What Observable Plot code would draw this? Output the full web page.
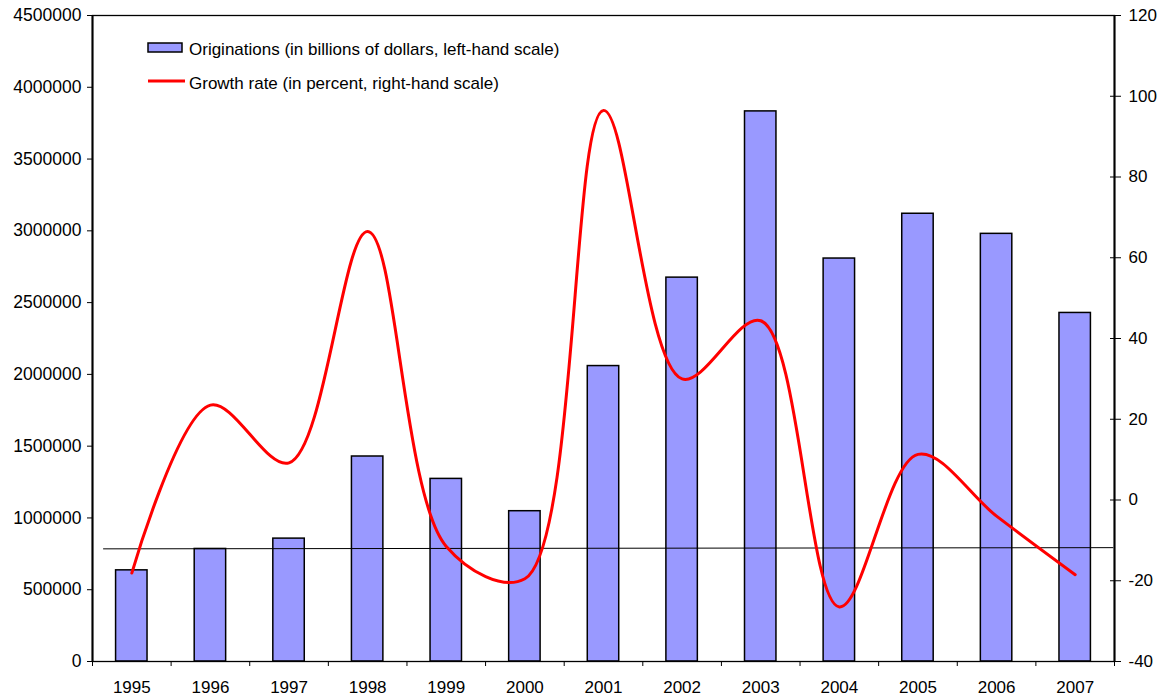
<!DOCTYPE html>
<html><head><meta charset="utf-8">
<script src="https://cdn.jsdelivr.net/npm/d3@7"></script>
<script src="https://cdn.jsdelivr.net/npm/@observablehq/plot@0.6"></script>
<style>
body{margin:0;background:#fff;}
#wrap{position:relative;width:1166px;height:698px;}
#legend{position:absolute;left:0;top:0;pointer-events:none;}
</style>
</head><body><div id="wrap"></div>
<script>
const years = [1995, 1996, 1997, 1998, 1999, 2000, 2001, 2002, 2003, 2004, 2005, 2006, 2007];
const originations = [635000, 784000, 856000, 1428000, 1272000, 1047000, 2058000, 2674000, 3832000, 2807000, 3119000, 2979000, 2428000];
const growth = [-18.1, 23.5, 9.2, 66.5, -11.5, -19.5, 96.5, 30.0, 44.4, -26.5, 11.3, -4.0, -18.5];
const refX = [1994.64, 2007.48];
const refGrowth = [-12.1, -11.8];
const leftTicks = [0, 500000, 1000000, 1500000, 2000000, 2500000, 3000000, 3500000, 4000000, 4500000];
const rightTicks = [-40, -20, 0, 20, 40, 60, 80, 100, 120];
const legendLabels = ["Originations (in billions of dollars, left-hand scale)", "Growth rate (in percent, right-hand scale)"];

const Y_MAX = 4500000, R_MIN = -40, R_MAX = 120;
const toLeft = v => (v - R_MIN) / (R_MAX - R_MIN) * Y_MAX;
const fromLeft = y => y / Y_MAX * (R_MAX - R_MIN) + R_MIN;

const bars = years.map((year, i) => ({year, value: originations[i]}));
const lineData = years.map((year, i) => ({year, g: growth[i]}));
const ref = refX.map((x, i) => ({x, g: refGrowth[i]}));
const boundaries = d3.range(years[0] - 0.5, years[years.length - 1] + 1, 1);

const chart = Plot.plot({
  width: 1166, height: 698,
  marginTop: 15, marginBottom: 37, marginLeft: 92, marginRight: 52,
  style: {fontFamily: "'Liberation Sans', Arial, sans-serif", fontSize: "17px", color: "#000", background: "#fff", overflow: "visible"},
  x: {type: "linear", domain: [1994.5, 2007.5], label: null},
  y: {domain: [0, Y_MAX], label: null},
  marks: [
    Plot.rect(bars, {x1: d => d.year - 0.2, x2: d => d.year + 0.2, y1: 0, y2: "value", fill: "#9999FF", stroke: "#000", strokeWidth: 1.5}),
    Plot.line(ref, {x: "x", y: d => toLeft(d.g), stroke: "#000", strokeWidth: 1}),
    Plot.frame({stroke: "#000", strokeWidth: 1.3}),
    Plot.ruleX([1994.5, 2007.5], {stroke: "#000", strokeWidth: 2}),
    Plot.axisY(leftTicks, {anchor: "left", tickSize: 5, tickPadding: 6, tickFormat: d => String(d), label: null, fontSize: 17.5}),
    Plot.axisY(rightTicks.map(toLeft), {anchor: "right", tickSize: 11, dx: -5, tickPadding: 8, label: null, tickFormat: d => String(Math.round(fromLeft(d)))}),
    Plot.axisX(boundaries, {anchor: "bottom", tickSize: 5, tickFormat: () => "", label: null}),
    Plot.axisX(years, {anchor: "bottom", tickSize: 0, tickPadding: 19, tickFormat: d => String(d), label: null}),
    Plot.line(lineData, {x: "year", y: d => toLeft(d.g), stroke: "#FF0000", strokeWidth: 3, curve: "catmull-rom"})
  ]
});
const wrap = document.getElementById("wrap");
wrap.appendChild(chart);

const lg = d3.select(wrap).append("svg").attr("id", "legend").attr("width", 1166).attr("height", 120)
  .style("font-family", "'Liberation Sans', Arial, sans-serif").style("font-size", "17px");
lg.append("rect").attr("x", 148).attr("y", 43).attr("width", 34).attr("height", 9)
  .attr("fill", "#9999FF").attr("stroke", "#000").attr("stroke-width", 1.5);
lg.append("line").attr("x1", 148).attr("x2", 185).attr("y1", 81).attr("y2", 81)
  .attr("stroke", "#FF0000").attr("stroke-width", 3);
lg.append("text").attr("x", 189).attr("y", 55).attr("fill", "#000").text(legendLabels[0]);
lg.append("text").attr("x", 189).attr("y", 89).attr("fill", "#000").text(legendLabels[1]);
</script>
</body></html>
